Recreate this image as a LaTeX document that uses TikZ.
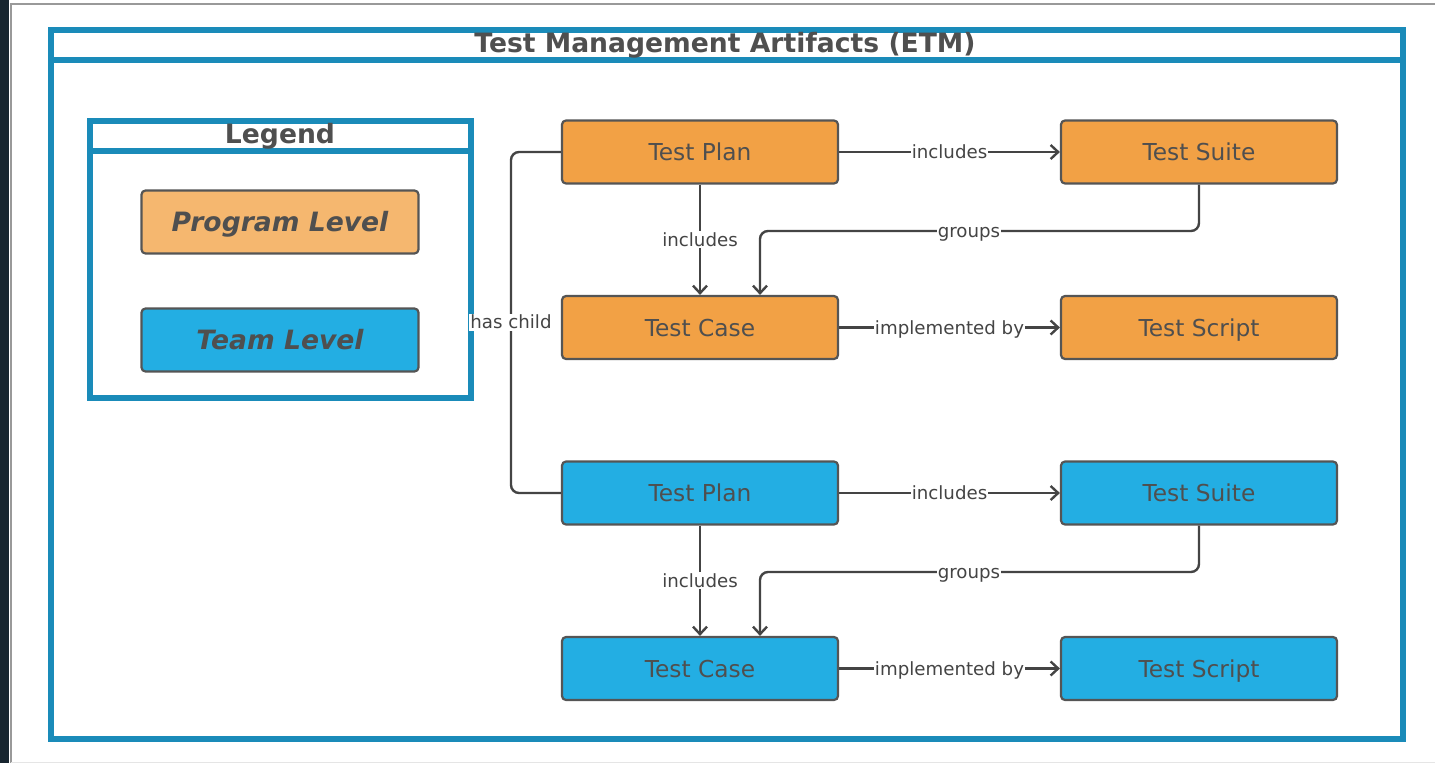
\documentclass[tikz,border=0pt]{standalone}
\usepackage{fontspec}
\setmainfont{DejaVu Sans}
\usetikzlibrary{arrows.meta,calc}
\definecolor{frameblue}{HTML}{1A8BB9}
\definecolor{orangeA}{HTML}{F2A145}
\definecolor{orangeL}{HTML}{F5B76F}
\definecolor{blueA}{HTML}{23AEE3}
\definecolor{edgegray}{HTML}{555555}
\definecolor{linegray}{HTML}{444444}
\definecolor{txtgray}{HTML}{4F4F4F}
\definecolor{darkstrip}{HTML}{17252F}
\tikzset{
  container/.style={draw=frameblue, line width=6pt, inner sep=0pt},
  artifact/.style={draw=edgegray, line width=2.2pt, rounded corners=4pt,
    minimum width=276pt, minimum height=63pt, inner sep=0pt,
    text height=20pt, text depth=2.5pt,
    text=txtgray, font=\fontsize{23.3}{26}\selectfont},
  orangebox/.style={artifact, fill=orangeA},
  bluebox/.style={artifact, fill=blueA},
  legendbox/.style={draw=edgegray, line width=2.2pt, rounded corners=4pt,
    minimum width=277pt, minimum height=63pt, inner sep=0pt,
    text height=20pt, text depth=2pt,
    text=txtgray, font=\fontsize{26.6}{30}\selectfont\bfseries\itshape},
  conn/.style={draw=linegray, line width=2.4pt},
  arrowconn/.style={conn, -{Straight Barb[length=7.5pt,width=14pt,line width=2.4pt]}},
  elabel/.style={fill=white, inner sep=1pt, text=linegray,
    text height=14pt, text depth=1pt,
    font=\fontsize{18.2}{21}\selectfont},
  heading/.style={text=txtgray, font=\fontsize{26.6}{30}\selectfont\bfseries, inner sep=0pt}
}
\begin{document}
\begin{tikzpicture}[x=1pt,y=-1pt]
\useasboundingbox (0,0) rectangle (1435,763);
\fill[white] (0,0) rectangle (1435,763);
% screen frame
\fill[darkstrip] (0,0) rectangle (9,763);
\draw[gray!80, line width=2pt] (10.5,763) -- (10.5,4) -- (1435,4);
\draw[gray!20, line width=1pt] (10.5,762.5) -- (1435,762.5);
% outer container
\node[container, minimum width=1352pt, minimum height=708.5pt] (etm) at (727,384.25) {};
\draw[frameblue, line width=6pt] (etm.north west |- 0,60) -- (etm.north east |- 0,60);
\node[heading] (etmtitle) at (725,45.5) {Test Management Artifacts (ETM)};
% legend
\node[container, minimum width=381pt, minimum height=277pt] (legend) at (280.5,259) {};
\draw[frameblue, line width=6pt] (legend.north west |- 0,151) -- (legend.north east |- 0,151);
\node[heading] (legendtitle) at (280,136.5) {Legend};
\node[legendbox, fill=orangeL] (lprog) at (280,222) {Program Level};
\node[legendbox, fill=blueA] (lteam) at (280,340) {Team Level};
% program level
\node[orangebox] (op) at (700,152) {Test Plan};
\node[orangebox] (os) at (1199,152) {Test Suite};
\node[orangebox] (oc) at (700,327.5) {Test Case};
\node[orangebox] (osc) at (1199,327.5) {Test Script};
% team level
\node[bluebox] (bp) at (700,493) {Test Plan};
\node[bluebox] (bs) at (1199,493) {Test Suite};
\node[bluebox] (bc) at (700,668.5) {Test Case};
\node[bluebox] (bsc) at (1199,668.5) {Test Script};
% connectors program
\draw[arrowconn] (op.east) -- node[elabel] {includes} (os.west);
\draw[arrowconn] (op.south) -- node[elabel, pos=0.5] {includes} (oc.north);
\coordinate (og) at (969,231);
\draw[arrowconn, rounded corners=8pt] (os.south) |- (og) -| ([xshift=60pt]oc.north);
\node[elabel] (oglab) at (og) {groups};
\draw[arrowconn] (oc.east) -- node[elabel] {implemented by} (osc.west);
% connectors team
\draw[arrowconn] (bp.east) -- node[elabel] {includes} (bs.west);
\draw[arrowconn] (bp.south) -- node[elabel, pos=0.5] {includes} (bc.north);
\coordinate (bg) at (969,572);
\draw[arrowconn, rounded corners=8pt] (bs.south) |- (bg) -| ([xshift=60pt]bc.north);
\node[elabel] (bglab) at (bg) {groups};
\draw[arrowconn] (bc.east) -- node[elabel] {implemented by} (bsc.west);
% has child
\coordinate (hc) at (511,322);
\draw[conn, rounded corners=8pt] (op.west) -| (hc) |- (bp.west);
\node[elabel] (hclab) at (hc) {has child};
\end{tikzpicture}
\end{document}
